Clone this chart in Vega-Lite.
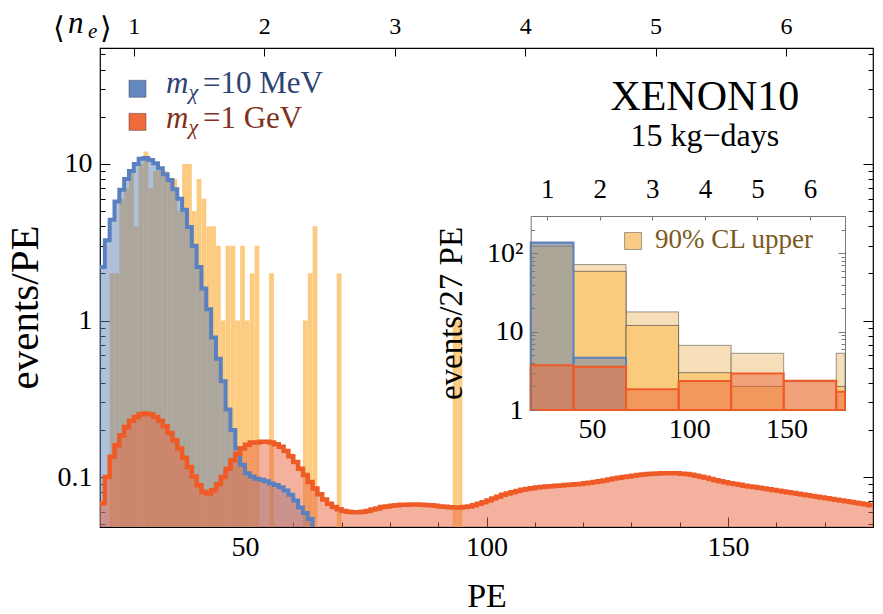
{
  "$schema": "https://vega.github.io/schema/vega-lite/v6.json",
  "width": 773,
  "height": 479,
  "autosize": {"type": "none"},
  "padding": {"left": 100, "top": 48, "right": 10, "bottom": 87},
  "background": "white",
  "config": {
    "view": {"stroke": "black", "strokeWidth": 1.2},
    "font": "Times New Roman",
    "text": {"font": "Times New Roman"},
    "axis": {"labelFont": "Times New Roman", "titleFont": "Times New Roman", "labelFontSize": 28, "labelColor": "black", "titleColor": "black", "tickColor": "black", "domainColor": "black", "grid": false, "titleFontWeight": "normal", "labelOverlap": false, "labelFlush": false, "labelBound": false}
  },
  "datasets": {
    "observed": [
      {"lo": 22, "hi": 23, "n": 2}, {"lo": 23, "hi": 24, "n": 2}, {"lo": 24, "hi": 25, "n": 6}, {"lo": 25, "hi": 26, "n": 7},
      {"lo": 26, "hi": 27, "n": 9}, {"lo": 27, "hi": 28, "n": 4}, {"lo": 28, "hi": 29, "n": 10}, {"lo": 29, "hi": 30, "n": 12},
      {"lo": 30, "hi": 31, "n": 7}, {"lo": 31, "hi": 32, "n": 9}, {"lo": 32, "hi": 33, "n": 9}, {"lo": 33, "hi": 34, "n": 9},
      {"lo": 34, "hi": 35, "n": 8}, {"lo": 35, "hi": 36, "n": 8}, {"lo": 36, "hi": 37, "n": 5}, {"lo": 37, "hi": 38, "n": 10},
      {"lo": 38, "hi": 39, "n": 10}, {"lo": 39, "hi": 40, "n": 5}, {"lo": 40, "hi": 41, "n": 8}, {"lo": 41, "hi": 42, "n": 6},
      {"lo": 42, "hi": 43, "n": 4}, {"lo": 43, "hi": 44, "n": 4}, {"lo": 44, "hi": 45, "n": 3}, {"lo": 45, "hi": 46, "n": 1},
      {"lo": 46, "hi": 47, "n": 3}, {"lo": 47, "hi": 48, "n": 3}, {"lo": 48, "hi": 49, "n": 1}, {"lo": 49, "hi": 50, "n": 3},
      {"lo": 50, "hi": 51, "n": 1}, {"lo": 51, "hi": 52, "n": 2}, {"lo": 52, "hi": 53, "n": 3}, {"lo": 55, "hi": 56, "n": 2},
      {"lo": 62, "hi": 63, "n": 1}, {"lo": 63, "hi": 64, "n": 2}, {"lo": 64, "hi": 65, "n": 4}, {"lo": 69, "hi": 70, "n": 2},
      {"lo": 93, "hi": 94, "n": 1}, {"lo": 94, "hi": 95, "n": 1}
    ],
    "mchi10MeV": [
      {"pe": 20, "v": 2.2}, {"pe": 21, "v": 3.25}, {"pe": 22, "v": 4.4}, {"pe": 23, "v": 5.75}, {"pe": 24, "v": 6.85},
      {"pe": 25, "v": 8.0}, {"pe": 26, "v": 9.0}, {"pe": 27, "v": 10.0}, {"pe": 28, "v": 10.8}, {"pe": 29, "v": 10.9},
      {"pe": 30, "v": 10.6}, {"pe": 31, "v": 10.1}, {"pe": 32, "v": 9.4}, {"pe": 33, "v": 8.6}, {"pe": 34, "v": 7.9},
      {"pe": 35, "v": 6.9}, {"pe": 36, "v": 6.0}, {"pe": 37, "v": 5.1}, {"pe": 38, "v": 3.96}, {"pe": 39, "v": 3.0},
      {"pe": 40, "v": 2.2}, {"pe": 41, "v": 1.6}, {"pe": 42, "v": 1.18}, {"pe": 43, "v": 0.78}, {"pe": 44, "v": 0.57},
      {"pe": 45, "v": 0.41}, {"pe": 46, "v": 0.27}, {"pe": 47, "v": 0.2}, {"pe": 48, "v": 0.153}, {"pe": 49, "v": 0.12},
      {"pe": 50, "v": 0.106}, {"pe": 51, "v": 0.101}, {"pe": 52, "v": 0.0975}, {"pe": 53, "v": 0.096}, {"pe": 54, "v": 0.094},
      {"pe": 55, "v": 0.091}, {"pe": 56, "v": 0.089}, {"pe": 57, "v": 0.086}, {"pe": 58, "v": 0.082}, {"pe": 59, "v": 0.077},
      {"pe": 60, "v": 0.071}, {"pe": 61, "v": 0.064}, {"pe": 62, "v": 0.059}, {"pe": 63, "v": 0.054}, {"pe": 64, "v": 0.045}
    ],
    "mchi1GeV": [
      {"pe": 20, "v": 0.068}, {"pe": 21, "v": 0.1}, {"pe": 22, "v": 0.135}, {"pe": 23, "v": 0.16}, {"pe": 24, "v": 0.185},
      {"pe": 25, "v": 0.209}, {"pe": 26, "v": 0.229}, {"pe": 27, "v": 0.242}, {"pe": 28, "v": 0.252}, {"pe": 29, "v": 0.255},
      {"pe": 30, "v": 0.252}, {"pe": 31, "v": 0.242}, {"pe": 32, "v": 0.229}, {"pe": 33, "v": 0.211}, {"pe": 34, "v": 0.191},
      {"pe": 35, "v": 0.172}, {"pe": 36, "v": 0.152}, {"pe": 37, "v": 0.133}, {"pe": 38, "v": 0.116}, {"pe": 39, "v": 0.101},
      {"pe": 40, "v": 0.0887}, {"pe": 41, "v": 0.0804}, {"pe": 42, "v": 0.0785}, {"pe": 43, "v": 0.0824}, {"pe": 44, "v": 0.09},
      {"pe": 45, "v": 0.1}, {"pe": 46, "v": 0.113}, {"pe": 47, "v": 0.128}, {"pe": 48, "v": 0.141}, {"pe": 49, "v": 0.152},
      {"pe": 50, "v": 0.161}, {"pe": 51, "v": 0.166}, {"pe": 52, "v": 0.166}, {"pe": 53, "v": 0.168}, {"pe": 54, "v": 0.168},
      {"pe": 55, "v": 0.166}, {"pe": 56, "v": 0.162}, {"pe": 57, "v": 0.156}, {"pe": 58, "v": 0.147}, {"pe": 59, "v": 0.136},
      {"pe": 60, "v": 0.125}, {"pe": 61, "v": 0.113}, {"pe": 62, "v": 0.103}, {"pe": 63, "v": 0.093}, {"pe": 64, "v": 0.0844},
      {"pe": 65, "v": 0.0777}, {"pe": 66, "v": 0.0718}, {"pe": 67, "v": 0.0676}, {"pe": 68, "v": 0.0644}, {"pe": 69, "v": 0.0623},
      {"pe": 70, "v": 0.0607}, {"pe": 71, "v": 0.06}, {"pe": 72, "v": 0.0596}, {"pe": 73, "v": 0.0596}, {"pe": 74, "v": 0.06},
      {"pe": 75, "v": 0.0607}, {"pe": 76, "v": 0.0622}, {"pe": 77, "v": 0.063}, {"pe": 78, "v": 0.0644}, {"pe": 79, "v": 0.065},
      {"pe": 80, "v": 0.0656}, {"pe": 81, "v": 0.066}, {"pe": 82, "v": 0.0665}, {"pe": 83, "v": 0.0667}, {"pe": 84, "v": 0.0668},
      {"pe": 85, "v": 0.0668}, {"pe": 86, "v": 0.0667}, {"pe": 87, "v": 0.0664}, {"pe": 88, "v": 0.066}, {"pe": 89, "v": 0.0655},
      {"pe": 90, "v": 0.065}, {"pe": 91, "v": 0.0646}, {"pe": 92, "v": 0.0642}, {"pe": 93, "v": 0.064}, {"pe": 94, "v": 0.064},
      {"pe": 95, "v": 0.0644}, {"pe": 96, "v": 0.065}, {"pe": 97, "v": 0.066}, {"pe": 98, "v": 0.0675}, {"pe": 99, "v": 0.069},
      {"pe": 100, "v": 0.071}, {"pe": 101, "v": 0.073}, {"pe": 102, "v": 0.075}, {"pe": 103, "v": 0.077}, {"pe": 104, "v": 0.0785},
      {"pe": 105, "v": 0.08}, {"pe": 106, "v": 0.0815}, {"pe": 107, "v": 0.083}, {"pe": 108, "v": 0.084}, {"pe": 109, "v": 0.085},
      {"pe": 110, "v": 0.0858}, {"pe": 111, "v": 0.0865}, {"pe": 112, "v": 0.087}, {"pe": 113, "v": 0.0875}, {"pe": 114, "v": 0.088},
      {"pe": 115, "v": 0.0885}, {"pe": 116, "v": 0.089}, {"pe": 117, "v": 0.0895}, {"pe": 118, "v": 0.09}, {"pe": 119, "v": 0.0905},
      {"pe": 120, "v": 0.0912}, {"pe": 121, "v": 0.092}, {"pe": 122, "v": 0.093}, {"pe": 123, "v": 0.094}, {"pe": 124, "v": 0.0952},
      {"pe": 125, "v": 0.0965}, {"pe": 126, "v": 0.0978}, {"pe": 127, "v": 0.099}, {"pe": 128, "v": 0.1}, {"pe": 129, "v": 0.101},
      {"pe": 130, "v": 0.102}, {"pe": 131, "v": 0.103}, {"pe": 132, "v": 0.104}, {"pe": 133, "v": 0.1045}, {"pe": 134, "v": 0.105},
      {"pe": 135, "v": 0.1055}, {"pe": 136, "v": 0.106}, {"pe": 137, "v": 0.106}, {"pe": 138, "v": 0.106}, {"pe": 139, "v": 0.1058},
      {"pe": 140, "v": 0.1052}, {"pe": 141, "v": 0.1045}, {"pe": 142, "v": 0.1035}, {"pe": 143, "v": 0.102}, {"pe": 144, "v": 0.1005},
      {"pe": 145, "v": 0.099}, {"pe": 146, "v": 0.0972}, {"pe": 147, "v": 0.0955}, {"pe": 148, "v": 0.094}, {"pe": 149, "v": 0.0928},
      {"pe": 150, "v": 0.0915}, {"pe": 151, "v": 0.0903}, {"pe": 152, "v": 0.0892}, {"pe": 153, "v": 0.0882}, {"pe": 154, "v": 0.0872},
      {"pe": 155, "v": 0.0863}, {"pe": 156, "v": 0.0854}, {"pe": 157, "v": 0.0845}, {"pe": 158, "v": 0.0836}, {"pe": 159, "v": 0.0827},
      {"pe": 160, "v": 0.0818}, {"pe": 161, "v": 0.0809}, {"pe": 162, "v": 0.08}, {"pe": 163, "v": 0.0791}, {"pe": 164, "v": 0.0782},
      {"pe": 165, "v": 0.0773}, {"pe": 166, "v": 0.0765}, {"pe": 167, "v": 0.0757}, {"pe": 168, "v": 0.0749}, {"pe": 169, "v": 0.0741},
      {"pe": 170, "v": 0.0733}, {"pe": 171, "v": 0.0725}, {"pe": 172, "v": 0.0717}, {"pe": 173, "v": 0.0709}, {"pe": 174, "v": 0.0702},
      {"pe": 175, "v": 0.0694}, {"pe": 176, "v": 0.0686}, {"pe": 177, "v": 0.0678}, {"pe": 178, "v": 0.067}, {"pe": 179, "v": 0.0662},
      {"pe": 180, "v": 0.0655}
    ],
    "upper27": [
      {"lo": 13.5, "hi": 40.5, "v": 139}, {"lo": 40.5, "hi": 67.5, "v": 72}, {"lo": 67.5, "hi": 94.5, "v": 17.9},
      {"lo": 94.5, "hi": 121.5, "v": 6.7}, {"lo": 121.5, "hi": 148.5, "v": 5.3}, {"lo": 148.5, "hi": 175.5, "v": 2.3},
      {"lo": 175.5, "hi": 202.5, "v": 5.3}
    ],
    "observed27": [
      {"lo": 13.5, "hi": 40.5, "v": 124}, {"lo": 40.5, "hi": 67.5, "v": 59}, {"lo": 67.5, "hi": 94.5, "v": 12},
      {"lo": 94.5, "hi": 121.5, "v": 3}, {"lo": 121.5, "hi": 148.5, "v": 2}, {"lo": 175.5, "hi": 202.5, "v": 2}
    ],
    "mchi10MeV27": [
      {"lo": 13.5, "hi": 40.5, "v": 137}, {"lo": 40.5, "hi": 67.5, "v": 4.64}
    ],
    "mchi1GeV27": [
      {"lo": 13.5, "hi": 40.5, "v": 3.74}, {"lo": 40.5, "hi": 67.5, "v": 3.56}, {"lo": 67.5, "hi": 94.5, "v": 1.84},
      {"lo": 94.5, "hi": 121.5, "v": 2.34}, {"lo": 121.5, "hi": 148.5, "v": 2.93}, {"lo": 148.5, "hi": 175.5, "v": 2.37},
      {"lo": 175.5, "hi": 202.5, "v": 1.71}
    ],
    "anchor": [{}]
  },
  "layer": [
    {
      "layer": [
        {
          "data": {"name": "observed"},
          "mark": {"type": "rect", "clip": true, "color": "#FCCB80"},
          "encoding": {
            "x": {"field": "lo", "type": "quantitative",
              "scale": {"domain": [20, 180], "nice": false, "zero": false},
              "axis": {"orient": "bottom", "values": [20, 30, 40, 50, 60, 70, 80, 90, 100, 110, 120, 130, 140, 150, 160, 170, 180],
                "labelExpr": "datum.value % 50 == 0 ? format(datum.value, 'd') : ''",
                "tickSize": {"condition": {"test": "datum.value % 50 == 0", "value": -10}, "value": -5},
                "labelPadding": 16, "labelFont": "Times New Roman", "labelFontSize": 28, "domain": false,
                "title": "PE", "titleFont": "Times New Roman", "titleFontSize": 34, "titleX": 386.5, "titleY": 79, "titleBaseline": "alphabetic"}},
            "x2": {"field": "hi"},
            "y": {"field": "n", "type": "quantitative",
              "scale": {"type": "log", "domain": [0.048, 55], "nice": false},
              "axis": {"orient": "left", "values": [0.05, 0.06, 0.07, 0.08, 0.09, 0.1, 0.2, 0.3, 0.4, 0.5, 0.6, 0.7, 0.8, 0.9, 1, 2, 3, 4, 5, 6, 7, 8, 9, 10, 20, 30, 40, 50],
                "labelExpr": "datum.value == 0.1 ? '0.1' : datum.value == 1 ? '1' : datum.value == 10 ? '10' : ''",
                "tickSize": {"condition": {"test": "datum.value == 0.1 || datum.value == 1 || datum.value == 10", "value": -10}, "value": -5},
                "labelPadding": 18, "labelFont": "Times New Roman", "labelFontSize": 28, "domain": false,
                "title": "events/PE", "titleFont": "Times New Roman", "titleFontSize": 41, "titleX": -63, "titleY": 259, "titleAngle": -90, "titleAlign": "center", "titleBaseline": "alphabetic"}},
            "y2": {"datum": 0.01}
          }
        },
        {
          "data": {"name": "mchi10MeV"},
          "mark": {"type": "area", "interpolate": "step-after", "clip": true, "color": "#5E81B5", "opacity": 0.5},
          "encoding": {
            "x": {"field": "pe", "type": "quantitative", "axis": null},
            "y": {"field": "v", "type": "quantitative", "axis": null},
            "y2": {"datum": 0.01}
          }
        },
        {
          "data": {"name": "mchi1GeV"},
          "mark": {"type": "area", "interpolate": "step-after", "clip": true, "color": "#E9653D", "opacity": 0.5},
          "encoding": {
            "x": {"field": "pe", "type": "quantitative", "axis": null},
            "y": {"field": "v", "type": "quantitative", "axis": null},
            "y2": {"datum": 0.01}
          }
        },
        {
          "data": {"name": "mchi10MeV"},
          "mark": {"type": "line", "interpolate": "step-after", "clip": true, "color": "#5A80C0", "strokeWidth": 4, "strokeJoin": "miter"},
          "encoding": {
            "x": {"field": "pe", "type": "quantitative", "axis": null},
            "y": {"field": "v", "type": "quantitative", "axis": null}
          }
        },
        {
          "data": {"name": "mchi1GeV"},
          "mark": {"type": "line", "interpolate": "step-after", "clip": true, "color": "#EF5B27", "strokeWidth": 4.5, "strokeJoin": "miter"},
          "encoding": {
            "x": {"field": "pe", "type": "quantitative",
              "axis": {"orient": "top", "values": [27, 54, 81, 108, 135, 162],
                "labelExpr": "format(datum.value / 27, 'd')",
                "tickSize": -8, "labelPadding": 18, "labelFont": "Times New Roman", "labelFontSize": 24, "domain": false, "title": null}},
            "y": {"field": "v", "type": "quantitative",
              "axis": {"orient": "right", "values": [0.05, 0.06, 0.07, 0.08, 0.09, 0.1, 0.2, 0.3, 0.4, 0.5, 0.6, 0.7, 0.8, 0.9, 1, 2, 3, 4, 5, 6, 7, 8, 9, 10, 20, 30, 40, 50],
                "labels": false,
                "tickSize": {"condition": {"test": "datum.value == 0.1 || datum.value == 1 || datum.value == 10", "value": -10}, "value": -5},
                "domain": false, "title": null}}
          }
        },
        {
          "data": {"name": "anchor"},
          "mark": {"type": "point", "shape": "square", "size": 289, "filled": true, "fill": "#6388C2", "stroke": "#3A3A3A", "strokeOpacity": 0.45, "strokeWidth": 1, "opacity": 1},
          "encoding": {"x": {"datum": 27.76, "type": "quantitative", "axis": null}, "y": {"datum": 30.2, "type": "quantitative", "axis": null}}
        },
        {
          "data": {"name": "anchor"},
          "mark": {"type": "point", "shape": "square", "size": 289, "filled": true, "fill": "#F06A3A", "stroke": "#3A3A3A", "strokeOpacity": 0.45, "strokeWidth": 1, "opacity": 1},
          "encoding": {"x": {"datum": 27.76, "type": "quantitative", "axis": null}, "y": {"datum": 18.56, "type": "quantitative", "axis": null}}
        },
        {
          "data": {"name": "anchor"},
          "mark": {"type": "text", "text": "m", "font": "Times New Roman", "fontStyle": "italic", "fontSize": 31, "align": "left", "baseline": "alphabetic", "color": "#2D4373"},
          "encoding": {"x": {"datum": 33.66, "type": "quantitative", "axis": null}, "y": {"datum": 28.5, "type": "quantitative", "axis": null}}
        },
        {
          "data": {"name": "anchor"},
          "mark": {"type": "text", "text": "χ", "font": "Times New Roman", "fontStyle": "italic", "fontSize": 22, "align": "left", "baseline": "alphabetic", "dy": 6, "color": "#2D4373"},
          "encoding": {"x": {"datum": 38.3, "type": "quantitative", "axis": null}, "y": {"datum": 28.5, "type": "quantitative", "axis": null}}
        },
        {
          "data": {"name": "anchor"},
          "mark": {"type": "text", "text": "=10 MeV", "font": "Times New Roman", "fontSize": 31, "align": "left", "baseline": "alphabetic", "color": "#2D4373"},
          "encoding": {"x": {"datum": 41.3, "type": "quantitative", "axis": null}, "y": {"datum": 28.5, "type": "quantitative", "axis": null}}
        },
        {
          "data": {"name": "anchor"},
          "mark": {"type": "text", "text": "m", "font": "Times New Roman", "fontStyle": "italic", "fontSize": 31, "align": "left", "baseline": "alphabetic", "color": "#80321C"},
          "encoding": {"x": {"datum": 33.66, "type": "quantitative", "axis": null}, "y": {"datum": 17.0, "type": "quantitative", "axis": null}}
        },
        {
          "data": {"name": "anchor"},
          "mark": {"type": "text", "text": "χ", "font": "Times New Roman", "fontStyle": "italic", "fontSize": 22, "align": "left", "baseline": "alphabetic", "dy": 6, "color": "#80321C"},
          "encoding": {"x": {"datum": 38.3, "type": "quantitative", "axis": null}, "y": {"datum": 17.0, "type": "quantitative", "axis": null}}
        },
        {
          "data": {"name": "anchor"},
          "mark": {"type": "text", "text": "=1 GeV", "font": "Times New Roman", "fontSize": 31, "align": "left", "baseline": "alphabetic", "color": "#80321C"},
          "encoding": {"x": {"datum": 41.3, "type": "quantitative", "axis": null}, "y": {"datum": 17.0, "type": "quantitative", "axis": null}}
        },
        {
          "data": {"name": "anchor"},
          "mark": {"type": "text", "text": "XENON10", "font": "Times New Roman", "fontSize": 42, "align": "center", "baseline": "alphabetic"},
          "encoding": {"x": {"datum": 145.2, "type": "quantitative", "axis": null}, "y": {"datum": 22.0, "type": "quantitative", "axis": null}}
        },
        {
          "data": {"name": "anchor"},
          "mark": {"type": "text", "text": "15 kg−days", "font": "Times New Roman", "fontSize": 32, "align": "center", "baseline": "alphabetic"},
          "encoding": {"x": {"datum": 145.2, "type": "quantitative", "axis": null}, "y": {"datum": 13.1, "type": "quantitative", "axis": null}}
        },
        {
          "data": {"name": "anchor"},
          "mark": {"type": "text", "text": "⟨", "font": "Times New Roman", "fontSize": 30, "align": "left", "baseline": "alphabetic"},
          "encoding": {"x": {"datum": 10.27, "type": "quantitative", "axis": null}, "y": {"datum": 63.9, "type": "quantitative", "axis": null}}
        },
        {
          "data": {"name": "anchor"},
          "mark": {"type": "text", "text": "n", "font": "Times New Roman", "fontStyle": "italic", "fontSize": 31, "align": "left", "baseline": "alphabetic"},
          "encoding": {"x": {"datum": 13.38, "type": "quantitative", "axis": null}, "y": {"datum": 68.8, "type": "quantitative", "axis": null}}
        },
        {
          "data": {"name": "anchor"},
          "mark": {"type": "text", "text": "e", "font": "Times New Roman", "fontStyle": "italic", "fontSize": 21, "align": "left", "baseline": "alphabetic"},
          "encoding": {"x": {"datum": 17.52, "type": "quantitative", "axis": null}, "y": {"datum": 63.9, "type": "quantitative", "axis": null}}
        },
        {
          "data": {"name": "anchor"},
          "mark": {"type": "text", "text": "⟩", "font": "Times New Roman", "fontSize": 30, "align": "left", "baseline": "alphabetic"},
          "encoding": {"x": {"datum": 20.0, "type": "quantitative", "axis": null}, "y": {"datum": 63.9, "type": "quantitative", "axis": null}}
        }
      ],
      "resolve": {"axis": {"x": "independent", "y": "independent"}}
    },
    {
      "layer": [
        {
          "data": {"name": "upper27"},
          "mark": {"type": "rect", "color": "#F6DEB8", "stroke": "#4A4A4A", "strokeOpacity": 0.55, "strokeWidth": 1},
          "encoding": {
            "x": {"field": "lo", "type": "quantitative",
              "scale": {"domain": [18.5, 180], "range": [430.7, 745], "clamp": true, "nice": false, "zero": false},
              "axis": {"orient": "bottom", "offset": -117, "values": [20, 30, 40, 50, 60, 70, 80, 90, 100, 110, 120, 130, 140, 150, 160, 170, 180],
                "labelExpr": "datum.value % 50 == 0 ? format(datum.value, 'd') : ''",
                "tickSize": {"condition": {"test": "datum.value % 50 == 0", "value": -7}, "value": -4},
                "labelPadding": 12, "labelFont": "Times New Roman", "labelFontSize": 28, "domainColor": "#777", "tickColor": "#777", "title": null}},
            "x2": {"field": "hi"},
            "y": {"field": "v", "type": "quantitative",
              "scale": {"type": "log", "domain": [1, 300], "range": [362, 168], "nice": false},
              "axis": {"orient": "left", "offset": -430.7, "zindex": 2, "values": [1, 2, 3, 4, 5, 6, 7, 8, 9, 10, 20, 30, 40, 50, 60, 70, 80, 90, 100, 200, 300],
                "labelExpr": "datum.value == 1 ? '1' : datum.value == 10 ? '10' : datum.value == 100 ? '10²' : ''",
                "tickSize": {"condition": {"test": "datum.value == 1 || datum.value == 10 || datum.value == 100", "value": -7}, "value": -4},
                "labelPadding": 14.7, "labelFont": "Times New Roman", "labelFontSize": 28, "domainColor": "#777", "tickColor": "#777",
                "title": "events/27 PE", "titleFont": "Times New Roman", "titleFontSize": 33, "titleX": -69.7, "titleY": 265, "titleAngle": -90, "titleAlign": "center", "titleBaseline": "alphabetic"}},
            "y2": {"datum": 1}
          }
        },
        {
          "data": {"name": "observed27"},
          "mark": {"type": "rect", "color": "#FACB7C", "stroke": "#3A3A3A", "strokeOpacity": 0.6, "strokeWidth": 1},
          "encoding": {
            "x": {"field": "lo", "type": "quantitative", "axis": null},
            "x2": {"field": "hi"},
            "y": {"field": "v", "type": "quantitative", "axis": null},
            "y2": {"datum": 1}
          }
        },
        {
          "data": {"name": "mchi10MeV27"},
          "mark": {"type": "rect", "fill": "#5E81B5", "fillOpacity": 0.5, "stroke": "#5A80C0", "strokeWidth": 2},
          "encoding": {
            "x": {"field": "lo", "type": "quantitative", "axis": null},
            "x2": {"field": "hi"},
            "y": {"field": "v", "type": "quantitative", "axis": null},
            "y2": {"datum": 1}
          }
        },
        {
          "data": {"name": "mchi1GeV27"},
          "mark": {"type": "rect", "fill": "#E9653D", "fillOpacity": 0.5, "stroke": "#EF5B27", "strokeWidth": 2},
          "encoding": {
            "x": {"field": "lo", "type": "quantitative",
              "axis": {"orient": "top", "offset": -168, "values": [27, 54, 81, 108, 135, 162],
                "labelExpr": "format(datum.value / 27, 'd')",
                "tickSize": -4, "labelPadding": 17, "labelFont": "Times New Roman", "labelFontSize": 27, "domainColor": "#777", "tickColor": "#777", "title": null}},
            "x2": {"field": "hi"},
            "y": {"field": "v", "type": "quantitative",
              "axis": {"orient": "right", "offset": -28, "values": [1, 2, 3, 4, 5, 6, 7, 8, 9, 10, 20, 30, 40, 50, 60, 70, 80, 90, 100, 200, 300],
                "labels": false,
                "tickSize": {"condition": {"test": "datum.value == 1 || datum.value == 10 || datum.value == 100", "value": -7}, "value": -4},
                "domainColor": "#777", "tickColor": "#777", "title": null}},
            "y2": {"datum": 1}
          }
        },
        {
          "data": {"name": "anchor"},
          "mark": {"type": "point", "shape": "square", "size": 289, "filled": true, "fill": "#F8CB86", "stroke": "#3A3A3A", "strokeOpacity": 0.45, "strokeWidth": 1, "opacity": 1},
          "encoding": {"x": {"datum": 71.1, "type": "quantitative", "axis": null}, "y": {"datum": 144, "type": "quantitative", "axis": null}}
        },
        {
          "data": {"name": "anchor"},
          "mark": {"type": "text", "text": "90% CL upper", "font": "Times New Roman", "fontSize": 27, "align": "left", "baseline": "alphabetic", "color": "#7A5A1E"},
          "encoding": {"x": {"datum": 82.4, "type": "quantitative", "axis": null}, "y": {"datum": 117, "type": "quantitative", "axis": null}}
        }
      ],
      "resolve": {"axis": {"x": "independent", "y": "independent"}}
    }
  ],
  "resolve": {"scale": {"x": "independent", "y": "independent"}}
}
